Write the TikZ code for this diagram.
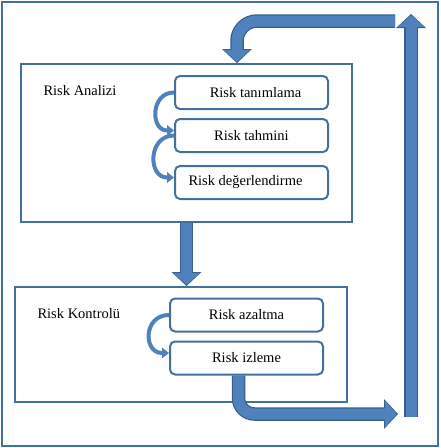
\documentclass[tikz,border=0pt]{standalone}
\usepackage{fontspec}
\setmainfont{Liberation Serif}
\usetikzlibrary{positioning,arrows.meta,calc}
\definecolor{mavi}{HTML}{4F81BD}
\definecolor{lacivert}{HTML}{41719C}
\definecolor{kenar}{HTML}{385D8A}

\begin{document}
\begin{tikzpicture}[x=1pt, y=-1pt, font=\fontsize{14.5}{17}\selectfont,
      kutu/.style={draw=lacivert, line width=2pt, inner sep=0pt},
      adim/.style={draw=lacivert, rounded corners=5pt, line width=2pt,
                   minimum width=153pt, minimum height=33pt, align=center},
      kivrik/.style={draw=mavi, line width=4pt,
                     -{Triangle[width=11pt,length=7pt,line width=0pt]}},
      buyukok/.style={draw=mavi, line width=11pt, rounded corners=16pt, shorten >=1.2pt,
                      -{Triangle[width=27pt,length=12pt,line width=0pt]},
                      preaction={draw=kenar, line width=13.5pt, shorten >=0pt,
                                 -{Triangle[width=30pt,length=14pt,line width=0pt]}}}]
    \useasboundingbox (0,0) rectangle (441,448);
    \node[draw=lacivert, line width=2pt, minimum width=436pt, minimum height=444pt] (cerceve) at (219.5,223.5) {};

    \node[kutu, minimum width=331pt, minimum height=158pt] (analizi) at (186.5,143) {};
    \node[kutu, minimum width=332pt, minimum height=115pt] (kontrol) at (181,344.5) {};
    \node[anchor=west] (analizilbl) at (40,91) {Risk Analizi};
    \node[anchor=west] (kontrollbl) at (34,314) {Risk Kontrolü};

    \node[adim] (tanimlama) at (251.5,92.5) {\hspace*{8pt}Risk tanımlama};
    \node[adim, below=8pt of tanimlama] (tahmini) {Risk tahmini};
    \node[adim, below=12pt of tahmini] (degerlendirme) {Risk değerlendirme\hspace*{12pt}};
    \node[adim] (azaltma) at (246.5,315) {Risk azaltma};
    \node[adim, below=8pt of azaltma] (izleme) {Risk izleme};

    \coordinate (sagalt) at (411,417);
    \coordinate (sagust) at (411,14);
    \coordinate (ustsag) at (395,21);
    \coordinate (altuc) at (398,414);

    \draw[kivrik] (tanimlama.west) to[out=180, in=180, looseness=1.6] ([yshift=5pt]tahmini.west);
    \draw[kivrik] (tahmini.west) to[out=180, in=180, looseness=1.6] ([yshift=5pt]degerlendirme.west);
    \draw[kivrik] (azaltma.west) to[out=180, in=180, looseness=1.75] ([yshift=5pt]izleme.west);

    \draw[buyukok] (analizi.south) -- (analizi.south |- kontrol.north);
    \draw[buyukok] ([xshift=-8pt]izleme.south) |- (altuc);
    \draw[buyukok] (sagalt) -- (sagust);
    \draw[buyukok, rounded corners=20pt] (ustsag) -| ([xshift=50.5pt]analizi.north);
  \end{tikzpicture}
\end{document}
